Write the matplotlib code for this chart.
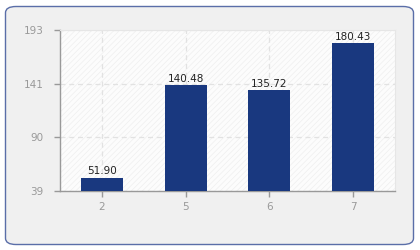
import numpy as np
import matplotlib
matplotlib.use("Agg")
import matplotlib.pyplot as plt
from matplotlib.patches import FancyBboxPatch

categories = ["2", "5", "6", "7"]
values = [51.90, 140.48, 135.72, 180.43]
y_min, y_max = 39, 193
y_ticks = np.linspace(y_min, y_max, 4)

plt.rcParams["hatch.linewidth"] = 0.5

fig = plt.figure(figsize=(4.2, 2.5), dpi=100)
fig.patch.set_facecolor("white")

# rounded outer panel, kept behind the axes
panel = FancyBboxPatch((5.5 / 420, 5.5 / 250), 408 / 420, 238 / 250,
                       boxstyle="round,pad=0,rounding_size=0.025",
                       transform=fig.transFigure, facecolor="#f0f0f0",
                       edgecolor="#5a6ea8", linewidth=1.0, zorder=-10)
fig.add_artist(panel)

ax = fig.add_axes([60 / 420, 59 / 250, 335 / 420, 161 / 250])
ax.set_zorder(1)
ax.set_facecolor("white")
# faint diagonal hatching on plot background
ax.add_patch(plt.Rectangle((0, 0), 1, 1, transform=ax.transAxes, facecolor="#fcfcfc",
                           edgecolor="#efefef", hatch="//////", linewidth=0, zorder=0))

x = np.arange(len(categories))
ax.bar(x, values, width=0.5, color="#19387f", zorder=3)
for xi, v in zip(x, values):
    ax.text(xi, v + 1, f"{v:.2f}", ha="center", va="bottom", fontsize=7.5,
            color="#222222", zorder=4)

ax.set_xlim(-0.5, len(categories) - 0.5)
ax.set_ylim(y_min, y_max)
ax.set_xticks(x)
ax.set_xticklabels(categories)
ax.set_yticks(y_ticks)
ax.set_yticklabels([f"{int(t)}" for t in y_ticks])

ax.grid(True, color="#e2e2e2", linestyle=(0, (4, 3)), linewidth=0.9, zorder=1)
for s in ["top", "right"]:
    ax.spines[s].set_color("#e6e6e6")
    ax.spines[s].set_linewidth(0.8)
for s in ["left", "bottom"]:
    ax.spines[s].set_color("#999999")
    ax.spines[s].set_linewidth(1.0)
ax.tick_params(colors="#999999", labelsize=7.5, length=4, width=1, pad=4)
ax.tick_params(axis="y", pad=8)

fig.savefig("out.png", dpi=100)
